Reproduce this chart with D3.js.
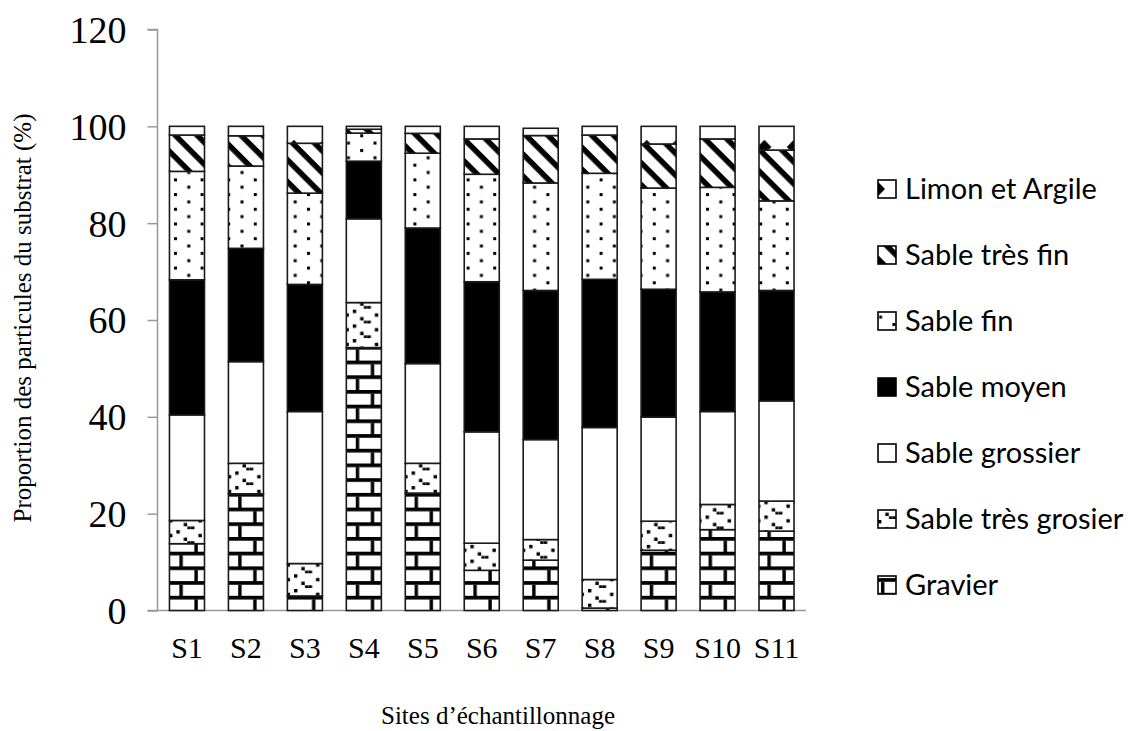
<!DOCTYPE html>
<html>
<head>
<meta charset="utf-8">
<script src="https://cdn.jsdelivr.net/npm/d3@7"></script>
<style>
  html, body { margin: 0; padding: 0; background: #fff; }
  svg { display: block; }
</style>
</head>
<body>
<svg id="chart" width="1139" height="731"></svg>
<script>
// ---- data ----
const sites = ["S1","S2","S3","S4","S5","S6","S7","S8","S9","S10","S11"];
const seriesNames = ["Gravier","Sable très grosier","Sable grossier","Sable moyen","Sable fin","Sable très fin","Limon et Argile"];
const gravier        = [13.8, 24.1, 3.0, 54.3, 24.25, 8.3, 10.4, 0.5, 12.45, 16.7, 16.4];
const sableTresGros  = [4.8, 6.3, 6.7, 9.3, 6.15, 5.6, 4.25, 5.9, 6.0, 5.2, 6.2];
const sableGrossier  = [21.8, 21.0, 31.4, 17.3, 20.6, 23.0, 20.65, 31.4, 21.5, 19.2, 20.7];
const sableMoyen     = [27.9, 23.4, 26.25, 11.9, 28.0, 31.0, 30.8, 30.6, 26.4, 24.7, 22.8];
const sableFin       = [22.4, 17.0, 18.85, 5.8, 15.45, 22.2, 22.2, 21.9, 20.9, 21.6, 18.5];
const sableTresFin   = [7.5, 6.25, 10.3, 0.8, 4.1, 7.3, 9.8, 7.9, 9.1, 10.0, 10.5];
const limonArgile    = [1.8, 1.95, 3.5, 0.6, 1.45, 2.6, 1.5, 1.8, 3.65, 2.6, 4.9];
const yTicks = [0, 20, 40, 60, 80, 100, 120];
const yTitle = "Proportion des particules du substrat (%)";
const xTitle = "Sites d’échantillonnage";

const seriesValues = [gravier, sableTresGros, sableGrossier, sableMoyen, sableFin, sableTresFin, limonArgile];
const table = sites.map((s, i) => {
  const row = { site: s };
  seriesNames.forEach((k, j) => row[k] = seriesValues[j][i]);
  return row;
});

// ---- layout ----
const svg = d3.select("#chart");
const x = d3.scaleBand().domain(sites).range([157.5, 806]).paddingInner(0.406).paddingOuter(0.203);
const y = d3.scaleLinear().domain([0, 120]).range([610.5, 29.5]);

// ---- patterns ----
const defs = svg.append("defs");
const patIds = ["p-gravier","p-tresgros","p-grossier","p-moyen","p-fin","p-tresfin","p-limon"];

// brick
{
  const p = defs.append("pattern").attr("id","p-gravier").attr("patternUnits","userSpaceOnUse")
    .attr("width", 29.4).attr("height", 29.4).attr("x", 0).attr("y", 610.5 % 29.4);
  p.append("rect").attr("width",29.4).attr("height",29.4).attr("fill","#fff");
  p.append("rect").attr("x",0).attr("y",0).attr("width",29.4).attr("height",3.7).attr("fill","#000");
  p.append("rect").attr("x",0).attr("y",14.7).attr("width",29.4).attr("height",3.7).attr("fill","#000");
  p.append("rect").attr("x",3).attr("y",3.7).attr("width",3.4).attr("height",11).attr("fill","#000");
  p.append("rect").attr("x",18).attr("y",18.4).attr("width",3.4).attr("height",11).attr("fill","#000");
}
// zigzag
{
  const p = defs.append("pattern").attr("id","p-tresgros").attr("patternUnits","userSpaceOnUse")
    .attr("width", 29.4).attr("height", 14.7);
  p.append("rect").attr("width",29.4).attr("height",14.7).attr("fill","#fff");
  const cells = [[0,0],[1,1],[2,2],[3,3],[4,3],[5,2],[6,1],[7,0]];
  cells.forEach(([cx, cy], i) => {
    if (i % 2 === 0 || i === 3 || i === 4)
      p.append("rect").attr("x", cx*3.67).attr("y", cy*3.67 + 1).attr("width",3.4).attr("height",3.4).attr("fill","#000");
  });
}
// white
{
  const p = defs.append("pattern").attr("id","p-grossier").attr("patternUnits","userSpaceOnUse").attr("width",10).attr("height",10);
  p.append("rect").attr("width",10).attr("height",10).attr("fill","#fff");
}
// black
{
  const p = defs.append("pattern").attr("id","p-moyen").attr("patternUnits","userSpaceOnUse").attr("width",10).attr("height",10);
  p.append("rect").attr("width",10).attr("height",10).attr("fill","#000");
}
// dots
{
  const p = defs.append("pattern").attr("id","p-fin").attr("patternUnits","userSpaceOnUse")
    .attr("width", 26.6).attr("height", 14.7).attr("x", 174);
  p.append("rect").attr("width",26.6).attr("height",14.7).attr("fill","#fff");
  p.append("rect").attr("x",0).attr("y",2).attr("width",3).attr("height",3).attr("fill","#000");
  p.append("rect").attr("x",13.3).attr("y",9.3).attr("width",3).attr("height",3).attr("fill","#000");
}
// wide downward diagonal
{
  const p = defs.append("pattern").attr("id","p-tresfin").attr("patternUnits","userSpaceOnUse")
    .attr("width", 15.5).attr("height", 15.5).attr("patternTransform","rotate(45)");
  p.append("rect").attr("width",15.5).attr("height",15.5).attr("fill","#fff");
  p.append("rect").attr("x",0).attr("y",0).attr("width",15.5).attr("height",5.5).attr("fill","#000");
}
// limon: white with black corner pieces
{
  const w = 29.4;
  const p = defs.append("pattern").attr("id","p-limon").attr("patternUnits","userSpaceOnUse")
    .attr("width", w).attr("height", w);
  p.append("rect").attr("width",w).attr("height",w).attr("fill","#fff");
  const c = 7;
  p.append("path").attr("fill","#000").attr("d",
    `M0,0 L${c},0 L0,${c} Z M${w},0 L${w-c},0 L${w},${c} Z M0,${w} L${c},${w} L0,${w-c} Z M${w},${w} L${w-c},${w} L${w},${w-c} Z`);
}

// ---- axes ----
const yAxis = d3.axisLeft(y).tickValues(yTicks).tickSize(10).tickPadding(21).tickFormat(d3.format("d"));
const gy = svg.append("g").attr("transform", "translate(157.5,0)").call(yAxis);
gy.select(".domain").attr("stroke","#999").attr("stroke-width",1.5).attr("d", `M-10,${y(120)}H0V${y(0)}`);
gy.selectAll(".tick line").attr("stroke","#999").attr("stroke-width",1.5);
gy.selectAll(".tick text").attr("font-family","'Liberation Serif', 'Times New Roman', serif")
  .attr("font-size", 38).attr("fill","#000").attr("dy","0.34em");

const xAxis = d3.axisBottom(x).tickSize(0).tickPadding(26);
const gx = svg.append("g").attr("transform", `translate(0,${y(0)})`).call(xAxis);
gx.select(".domain").attr("stroke","#999").attr("stroke-width",1.5).attr("d", `M147.5,0H806`);
gx.selectAll(".tick text").attr("font-family","'Liberation Serif', 'Times New Roman', serif")
  .attr("font-size", 30).attr("fill","#000");

// ---- bars ----
const stacked = d3.stack().keys(seriesNames)(table);
const layers = svg.append("g").selectAll("g").data(stacked).join("g")
  .attr("fill", (d, i) => `url(#${patIds[i]})`);
layers.selectAll("rect").data(d => d).join("rect")
  .attr("x", d => x(d.data.site))
  .attr("width", x.bandwidth())
  .attr("y", d => y(d[1]))
  .attr("height", d => y(d[0]) - y(d[1]))
  .attr("stroke", "#1a1a1a").attr("stroke-width", 1.6);

// ---- titles ----
svg.append("text").attr("x", 498).attr("y", 724).attr("text-anchor","middle")
  .attr("font-family","'Liberation Serif', 'Times New Roman', serif").attr("font-size", 25)
  .text(xTitle);
svg.append("text").attr("transform", "translate(31,318) rotate(-90)").attr("text-anchor","middle")
  .attr("font-family","'Liberation Serif', 'Times New Roman', serif").attr("font-size", 25)
  .text(yTitle);

// ---- legend ----
const legendOrder = seriesNames.map((n, i) => ({ name: n, pid: patIds[i] })).reverse();
const lg = svg.append("g").selectAll("g").data(legendOrder).join("g")
  .attr("transform", (d, i) => `translate(878,${189 + i * 66})`);
lg.append("rect").attr("x", 0).attr("y", -9).attr("width", 18).attr("height", 18)
  .attr("fill", d => `url(#${d.pid})`).attr("stroke", "#000").attr("stroke-width", 1.6);
lg.append("text").attr("x", 27).attr("y", 0).attr("dy", "0.35em")
  .attr("font-family","Lato, 'Open Sans', sans-serif").attr("font-size", 29)
  .text(d => d.name);
</script>
</body>
</html>
